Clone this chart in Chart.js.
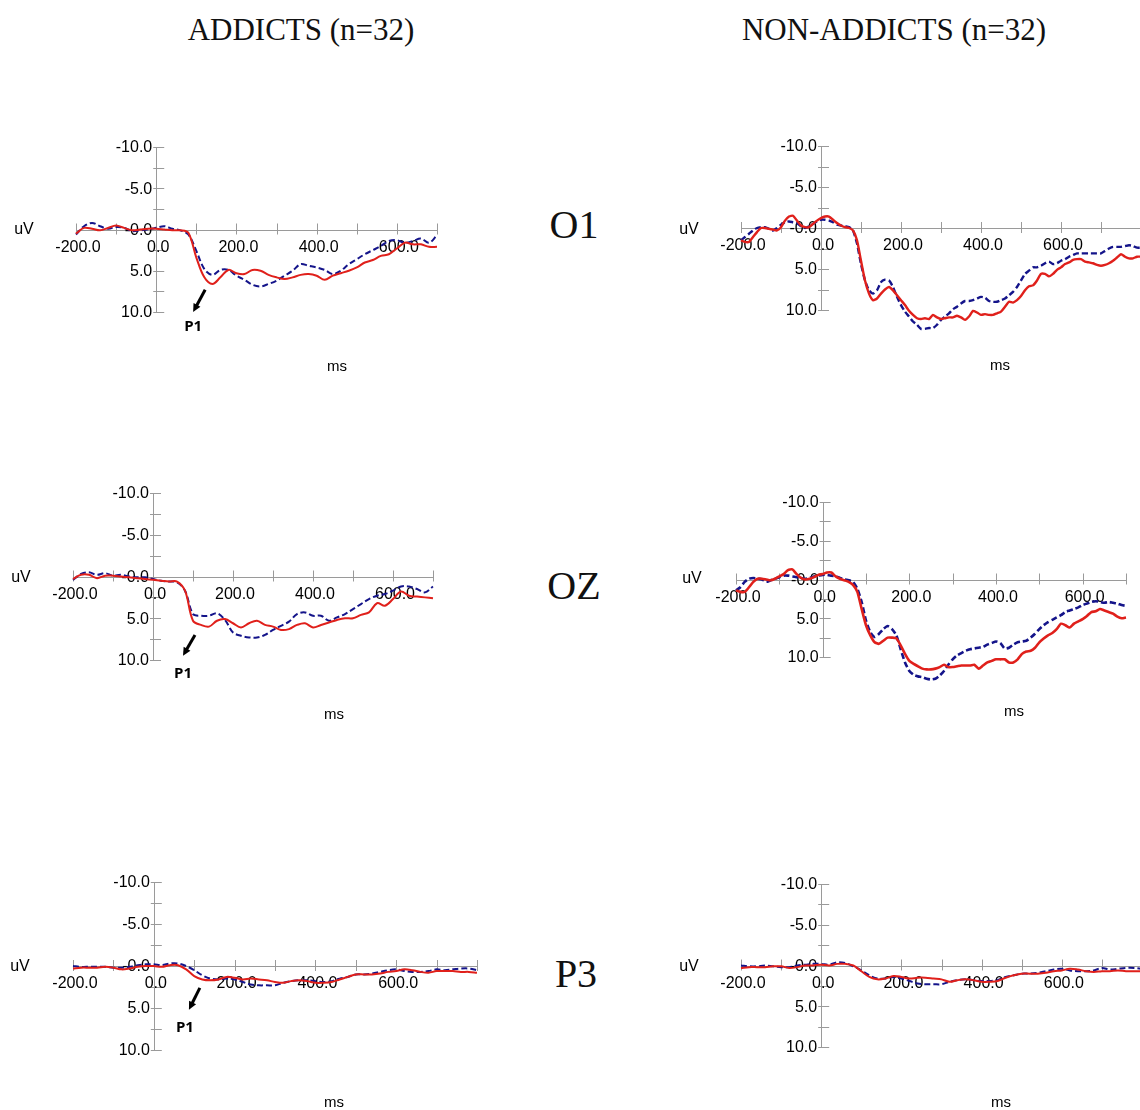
<!DOCTYPE html>
<html lang="en">
<head>
<meta charset="UTF-8">
<title>ERP waveforms - addicts vs non-addicts</title>
<script src="https://cdn.jsdelivr.net/npm/chart.js"></script>
<style>
    html, body {
        margin: 0;
        padding: 0;
        width: 1140px;
        height: 1110px;
        overflow: hidden;
        background: #fff;
    }
    canvas { position: absolute; }
    .title, .site {
        position: absolute;
        transform: translate(-50%, -50%);
        white-space: nowrap;
        font-family: 'Liberation Serif', 'DejaVu Serif', serif;
        color: #111;
    }
    .title { font-size: 31px; }
    .site { font-size: 40px; }
</style>
</head>
<body>
<div class="title" style="left:301px; top:30px;">ADDICTS (n=32)</div>
<div class="title" style="left:894px; top:30px;">NON-ADDICTS (n=32)</div>
<div class="site" style="left:574px; top:224px;">O1</div>
<div class="site" style="left:574px; top:585px;">OZ</div>
<div class="site" style="left:576px; top:973px;">P3</div>

<canvas id="a_o1"></canvas>
<canvas id="n_o1"></canvas>
<canvas id="a_oz"></canvas>
<canvas id="n_oz"></canvas>
<canvas id="a_p3"></canvas>
<canvas id="n_p3"></canvas>

<script>
// time axes (ms)
const MS_20_700 = [-200,-180,-160,-140,-120,-100,-80,-60,-40,-20,0,20,40,60,80,100,120,140,160,180,
    200,220,240,260,280,300,320,340,360,380,400,420,440,460,480,500,520,540,560,580,600,620,640,660,680,700];
const MS_20_800 = MS_20_700.concat([720,740,760,780,800]);
const MS_10_700 = [-200,-190,-180,-170,-160,-150,-140,-130,-120,-110,-100,-90,-80,-70,-60,-50,-40,-30,-20,-10,
    0,10,20,30,40,50,60,70,80,90,100,110,120,130,140,150,160,170,180,190,
    200,210,220,230,240,250,260,270,280,290,300,310,320,330,340,350,360,370,380,390,
    400,410,420,430,440,450,460,470,480,490,500,510,520,530,540,550,560,570,580,590,
    600,610,620,630,640,650,660,670,680,690,700];
const MS_10_800 = MS_10_700.concat([710,720,730,740,750,760,770,780,790,800]);

// tick values
const X_TICKS = [-200,-100,0,100,200,300,400,500,600,700,800];
const X_LABELED = [-200,0,200,400,600];
const Y_TICKS = [-10,-7.5,-5,-2.5,0,2.5,5,7.5,10];
const Y_LABELS = {'-10': '-10.0', '-5': '-5.0', '0': '-0.0', '5': '5.0', '10': '10.0'};

// amplitudes (uV), red = solid, blue = dashed
const ADDICT_O1_RED = [0.5,-0.2,-0.1,0.1,-0.2,-0.5,-0.2,0.1,0,-0.1,
    -0.1,0,0.1,0.1,0.4,3.4,5.8,6.6,5.8,4.9,
    5.3,5.4,4.9,5.0,5.5,5.8,6.0,5.8,5.5,5.4,
    5.6,6.1,5.6,5.3,5.0,4.6,4.0,3.7,3.2,3.0,
    2.3,1.6,1.8,1.8,2.1,2.1];
const ADDICT_O1_BLUE = [0.6,-0.4,-0.8,-0.4,-0.1,-0.3,-0.2,0.2,0.1,0,
    -0.2,-0.4,-0.1,0.1,0.6,2.6,4.8,5.5,4.9,4.9,
    5.6,6.1,6.7,6.9,6.6,6.2,5.6,5.0,4.2,4.4,
    4.6,4.9,5.4,5.0,4.2,3.6,3.0,2.5,2.0,1.4,
    1.3,1.6,1.4,1.1,1.6,0.7];

const ADDICT_OZ_RED = [0.3,-0.2,-0.2,0.2,-0.1,-0.1,0,0.1,0.2,0.3,
    0.4,0.5,0.6,0.6,1.7,5.3,5.8,6.0,5.3,5.1,
    5.6,6.1,5.6,5.3,5.8,6.0,6.4,6.3,5.8,5.6,
    6.1,5.8,5.5,5.2,5.0,5.0,4.6,4.3,3.2,3.5,
    2.7,1.8,2.3,2.4,2.5,2.6];
const ADDICT_OZ_BLUE = [0.4,-0.3,-0.5,-0.2,-0.4,-0.1,-0.2,0,0.1,0.1,
    0.3,0.5,0.6,0.7,1.7,4.5,4.7,4.7,4.4,5.2,
    6.7,7.1,7.3,7.3,7.0,6.4,5.9,5.4,4.5,4.3,
    4.7,4.7,5.3,4.9,4.5,3.9,3.3,2.7,2.3,2.1,
    1.7,1.2,1.2,1.5,1.9,1.2];

const ADDICT_P3_RED = [0.3,0.2,0.2,0.2,0.1,0.2,0.4,0.3,0.1,0,
    0,0.1,-0.1,-0.1,0.4,1.2,1.6,1.7,1.6,1.3,
    1.4,1.6,1.5,1.6,1.7,1.9,2.0,1.8,1.7,1.8,
    2.0,2.0,1.9,1.6,1.3,1.0,1.0,1.0,0.9,0.7,
    0.6,0.4,0.5,0.7,0.8,0.6,0.6,0.6,0.7,0.7,0.8];
const ADDICT_P3_BLUE = [0,0.1,0.1,0.1,0.1,0.2,0.2,0.1,-0.1,-0.2,
    -0.2,-0.1,-0.3,-0.3,0,0.5,1.1,1.5,1.6,1.5,
    1.6,1.9,2.2,2.3,2.3,2.3,2.0,1.8,1.7,1.7,
    1.8,1.9,1.8,1.5,1.3,1.0,1.0,0.9,0.7,0.5,
    0.4,0.6,0.7,0.7,0.6,0.4,0.5,0.4,0.3,0.3,0.5];

const NONADDICT_O1_RED = [1.5,1.7,1.7,1.1,0.5,0,0,0.1,0.2,0.3,
    -0.1,-0.9,-1.4,-1.5,-0.9,-0.3,-0.1,-0.1,-0.5,-0.9,
    -1.2,-1.4,-1.4,-1.0,-0.6,-0.3,-0.1,0,0.3,1.5,
    4.0,6.4,8.0,8.8,8.6,8.0,7.5,7.2,7.6,8.2,
    8.8,9.4,10.1,10.6,11.0,11.1,11.0,11.1,10.6,10.9,
    11.1,11.0,10.9,10.9,10.7,10.9,11.2,10.8,10.1,10.3,
    10.6,10.5,10.6,10.6,10.4,10.2,9.6,9.0,9.1,8.8,
    8.3,7.6,7.1,7.0,6.4,5.6,5.6,5.9,5.6,5.1,
    4.8,4.4,4.2,3.9,3.8,3.8,4.1,4.2,4.3,4.5,
    4.6,4.5,4.3,4.0,3.6,3.2,3.5,3.7,3.7,3.5,3.5];
const NONADDICT_O1_BLUE = [1.5,1.1,0.7,0.3,0,-0.1,-0.1,0.1,0.3,0,
    -0.4,-0.7,-0.8,-0.7,-0.6,-0.2,0,-0.2,-0.5,-0.8,
    -1.0,-1.0,-0.9,-0.7,-0.4,-0.3,-0.2,-0.1,0.3,1.9,
    4.4,6.4,7.6,8.0,7.6,6.6,6.3,6.4,7.2,8.4,
    9.4,10.2,10.8,11.4,11.8,12.3,12.3,12.2,12.2,11.8,
    11.2,10.8,10.4,9.9,9.6,9.2,8.9,8.9,8.8,8.6,
    8.4,8.5,8.9,9.0,9.0,8.8,8.6,8.2,7.8,7.2,
    6.4,5.6,5.2,4.8,4.8,4.6,4.3,4.1,4.4,4.3,
    4.0,3.8,3.5,3.3,3.1,3.1,3.1,3.1,3.1,3.1,
    3.1,2.8,2.5,2.3,2.3,2.3,2.2,2.1,2.2,2.4,2.4];

const NONADDICT_OZ_RED = [1.4,1.6,1.6,1.0,0.3,-0.1,-0.1,0,0.1,-0.1,
    -0.4,-0.7,-1.2,-1.3,-0.7,-0.2,0,-0.1,-0.3,-0.6,
    -0.7,-0.9,-0.9,-0.4,-0.1,0.1,0.3,0.7,1.6,3.8,
    5.9,7.2,8.1,8.3,7.9,7.5,7.5,7.6,8.5,9.6,
    10.5,10.9,11.2,11.5,11.6,11.6,11.5,11.3,11.0,11.3,
    11.3,11.2,11.1,11.1,11.1,11.0,11.5,11.1,10.7,10.5,
    10.3,10.3,10.3,10.7,10.7,10.3,9.6,9.3,9.2,8.8,
    8.1,7.6,7.2,6.9,6.4,5.7,5.9,6.2,5.7,5.4,
    5.1,4.7,4.2,4.1,3.8,4.0,4.2,4.4,4.8,5.0,4.9];
const NONADDICT_OZ_BLUE = [1.4,1.0,0.3,-0.1,-0.2,-0.1,0,0.3,0.1,-0.1,
    -0.3,-0.5,-0.5,-0.4,-0.3,-0.2,-0.1,-0.2,-0.4,-0.5,
    -0.6,-0.6,-0.5,-0.4,-0.2,0,0.1,0.3,1.2,2.9,
    5.3,6.8,7.4,7.0,6.4,6.0,6.4,7.2,9.0,10.7,
    11.8,12.3,12.5,12.6,12.8,12.9,12.8,12.4,11.8,11.0,
    10.3,9.8,9.5,9.2,9.0,8.9,8.8,8.7,8.4,8.2,
    8.0,8.2,8.9,8.8,8.4,8.1,8.0,7.9,7.5,7.0,
    6.4,5.9,5.5,5.2,4.9,4.6,4.2,4.0,3.8,3.6,
    3.3,3.1,2.9,2.8,2.9,3.0,2.9,3.0,3.1,3.3,3.4];

const NONADDICT_P3_RED = [0.3,0.2,0.2,0.2,0.1,0.1,0.3,0.2,0,0,
    -0.1,0,-0.2,-0.2,0,0.7,1.4,1.7,1.6,1.3,
    1.4,1.6,1.5,1.5,1.6,1.7,2.0,1.8,1.7,1.8,
    2.0,2.0,1.9,1.5,1.2,1.0,1.0,1.0,0.9,0.7,
    0.6,0.4,0.5,0.7,0.8,0.7,0.7,0.6,0.7,0.7,0.7];
const NONADDICT_P3_BLUE = [0,0.1,0.1,0,0.1,0.2,0.2,0,-0.1,-0.2,
    -0.2,-0.1,-0.4,-0.3,0.1,0.6,1.2,1.6,1.6,1.4,
    1.6,1.9,2.2,2.3,2.3,2.3,2.0,1.8,1.7,1.8,
    1.9,1.9,1.8,1.4,1.2,1.0,1.0,0.9,0.7,0.5,
    0.4,0.6,0.7,0.7,0.6,0.3,0.5,0.4,0.3,0.3,0.4];

// P1 annotation: arrow start, arrow tip, label (ms, uV)
const P1_O1 = [[122, 7.3], [92, 10.0], [92, 11.8]];
const P1_OZ = [[105, 7.0], [75, 9.5], [75, 11.6]];
const P1_P3 = [[114, 2.6], [87, 5.2], [77, 7.3]];

const RED = '#e0201b';
const BLUE = '#14148a';
const AXIS = '#9a9a9a';

// page layout of each panel: canvas box, plot box, extra labels
const panels = [
    { id: 'a_o1', ms: MS_20_700, red: ADDICT_O1_RED, blue: ADDICT_O1_BLUE, xMax: 700, smooth: 0.35, width: 2,
      box: [0, 120, 540, 280], area: [76, 147, 437, 312], uV: [24, 230], msLabel: [337, 367], p1: P1_O1 },
    { id: 'n_o1', ms: MS_10_800, red: NONADDICT_O1_RED, blue: NONADDICT_O1_BLUE, xMax: 800, smooth: 0.2, width: 2.4,
      box: [640, 120, 520, 280], area: [741, 146, 1141, 310], uV: [689, 230], msLabel: [1000, 366] },
    { id: 'a_oz', ms: MS_20_700, red: ADDICT_OZ_RED, blue: ADDICT_OZ_BLUE, xMax: 700, smooth: 0.35, width: 2,
      box: [0, 470, 540, 280], area: [73, 493, 433, 660], uV: [21, 578], msLabel: [334, 715], p1: P1_OZ },
    { id: 'n_oz', ms: MS_10_700, red: NONADDICT_OZ_RED, blue: NONADDICT_OZ_BLUE, xMax: 700, smooth: 0.2, width: 2.6,
      box: [640, 470, 520, 280], area: [736, 502, 1126, 657], uV: [692, 579], msLabel: [1014, 712] },
    { id: 'a_p3', ms: MS_20_800, red: ADDICT_P3_RED, blue: ADDICT_P3_BLUE, xMax: 800, smooth: 0.35, width: 2,
      box: [0, 860, 540, 260], area: [73, 882, 477, 1050], uV: [20, 967], msLabel: [334, 1103], p1: P1_P3 },
    { id: 'n_p3', ms: MS_20_800, red: NONADDICT_P3_RED, blue: NONADDICT_P3_BLUE, xMax: 800, smooth: 0.35, width: 2,
      box: [640, 860, 520, 260], area: [741, 884, 1142, 1047], uV: [689, 967], msLabel: [1001, 1103] }
];

// axes crossing at (0 ms, 0 uV), drawn under the waveforms
const erpAxes = {
    id: 'erpAxes',
    beforeDatasetsDraw(chart, args, opts) {
        const ctx = chart.ctx;
        const x = chart.scales.x, y = chart.scales.y;
        const x0 = x.getPixelForValue(0), y0 = y.getPixelForValue(0);
        ctx.save();
        ctx.strokeStyle = AXIS;
        ctx.lineWidth = 1;
        ctx.beginPath();
        ctx.moveTo(x.getPixelForValue(-200), Math.round(y0) + 0.5);
        ctx.lineTo(x.getPixelForValue(opts.xMax), Math.round(y0) + 0.5);
        ctx.moveTo(Math.round(x0) + 0.5, y.getPixelForValue(-10));
        ctx.lineTo(Math.round(x0) + 0.5, y.getPixelForValue(10));
        X_TICKS.filter(t => t <= opts.xMax).forEach(t => {
            const px = Math.round(x.getPixelForValue(t)) + 0.5;
            ctx.moveTo(px, y0 - 6);
            ctx.lineTo(px, y0 + 5);
        });
        Y_TICKS.forEach(v => {
            const py = Math.round(y.getPixelForValue(v)) + 0.5;
            ctx.moveTo(x0 - 3, py);
            ctx.lineTo(x0 + 8, py);
        });
        ctx.stroke();

        ctx.fillStyle = '#000';
        ctx.font = '16px "Liberation Sans", Arial, sans-serif';
        ctx.textAlign = 'right';
        ctx.textBaseline = 'middle';
        Object.keys(Y_LABELS).forEach(k => {
            ctx.fillText(Y_LABELS[k], x0 - 4, y.getPixelForValue(Number(k)) + 1);
        });
        ctx.textAlign = 'center';
        ctx.textBaseline = 'top';
        X_LABELED.forEach(t => {
            ctx.fillText(t.toFixed(1), x.getPixelForValue(t) + 2, y0 + 10);
        });
        ctx.restore();
    },
    afterDatasetsDraw(chart, args, opts) {
        const ctx = chart.ctx;
        const x = chart.scales.x, y = chart.scales.y;
        const [bx, by] = opts.box;
        ctx.save();
        ctx.fillStyle = '#000';
        ctx.textAlign = 'center';
        ctx.textBaseline = 'middle';
        ctx.font = '16px "Liberation Sans", Arial, sans-serif';
        ctx.fillText('uV', opts.uV[0] - bx, opts.uV[1] - by);
        ctx.font = '15px "Liberation Sans", Arial, sans-serif';
        ctx.fillText('ms', opts.msLabel[0] - bx, opts.msLabel[1] - by);
        if (opts.p1) {
            const [from, tip, lab] = opts.p1;
            const fx = x.getPixelForValue(from[0]), fy = y.getPixelForValue(from[1]);
            const tx = x.getPixelForValue(tip[0]), ty = y.getPixelForValue(tip[1]);
            const ang = Math.atan2(ty - fy, tx - fx);
            const head = 9;
            ctx.strokeStyle = '#000';
            ctx.lineWidth = 3;
            ctx.beginPath();
            ctx.moveTo(fx, fy);
            ctx.lineTo(tx - Math.cos(ang) * head * 0.8, ty - Math.sin(ang) * head * 0.8);
            ctx.stroke();
            ctx.beginPath();
            ctx.moveTo(tx, ty);
            ctx.lineTo(tx - head * Math.cos(ang - 0.45), ty - head * Math.sin(ang - 0.45));
            ctx.lineTo(tx - head * Math.cos(ang + 0.45), ty - head * Math.sin(ang + 0.45));
            ctx.closePath();
            ctx.fill();
            ctx.font = 'bold 15px "Open Sans", "Liberation Sans", sans-serif';
            ctx.fillText('P1', x.getPixelForValue(lab[0]), y.getPixelForValue(lab[1]));
        }
        ctx.restore();
    }
};

panels.forEach(p => {
    const [bx, by, bw, bh] = p.box;
    const [al, at, ar, ab] = p.area;
    const canvas = document.getElementById(p.id);
    canvas.width = bw;
    canvas.height = bh;
    canvas.style.left = bx + 'px';
    canvas.style.top = by + 'px';

    new Chart(canvas, {
        type: 'line',
        data: {
            datasets: [
                {
                    label: 'red',
                    data: p.ms.map((t, i) => ({ x: t, y: p.red[i] })),
                    borderColor: RED,
                    borderWidth: p.width,
                    tension: p.smooth,
                    pointRadius: 0,
                    clip: false
                },
                {
                    label: 'blue',
                    data: p.ms.map((t, i) => ({ x: t, y: p.blue[i] })),
                    borderColor: BLUE,
                    borderWidth: p.width,
                    borderDash: [6, 3],
                    tension: p.smooth,
                    pointRadius: 0,
                    clip: false
                }
            ]
        },
        options: {
            responsive: false,
            animation: false,
            events: [],
            layout: {
                padding: { left: al - bx, top: at - by, right: bx + bw - ar, bottom: by + bh - ab }
            },
            scales: {
                x: { type: 'linear', min: -200, max: p.xMax, display: false },
                y: { type: 'linear', min: -10, max: 10, reverse: true, display: false }
            },
            plugins: {
                legend: { display: false },
                tooltip: { enabled: false },
                erpAxes: { xMax: p.xMax, box: p.box, uV: p.uV, msLabel: p.msLabel, p1: p.p1 }
            }
        },
        plugins: [erpAxes]
    });
});
</script>
</body>
</html>
